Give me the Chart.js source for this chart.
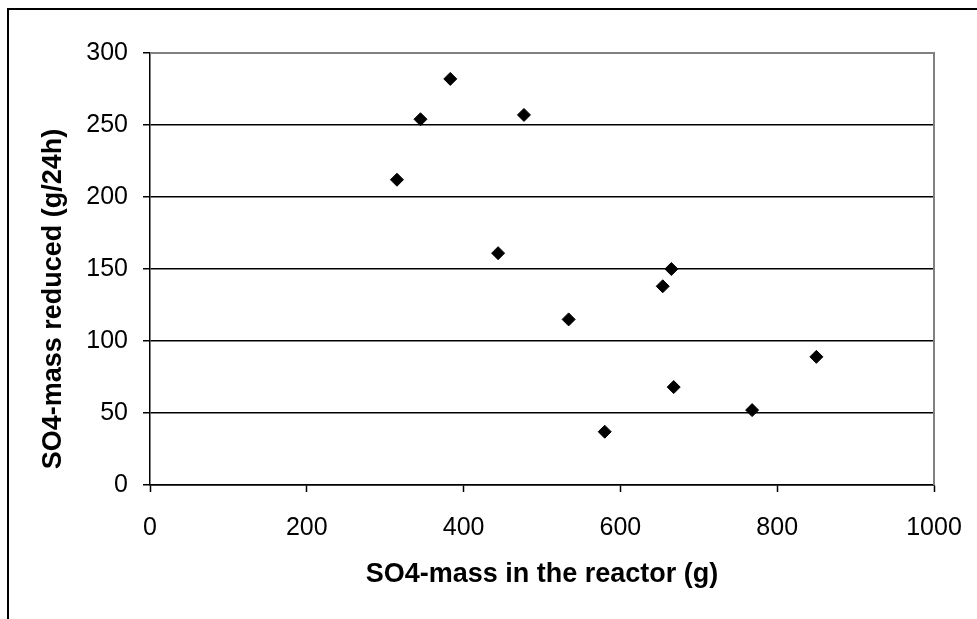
<!DOCTYPE html>
<html>
<head>
<meta charset="utf-8">
<script src="https://cdn.jsdelivr.net/npm/chart.js@4.4.1/dist/chart.umd.min.js"></script>
<style>
  html, body { margin: 0; padding: 0; background: #fff; overflow: hidden; }
  #frame { position: absolute; left: 7px; top: 8px; width: 1200px; height: 1000px; border: 2px solid #000; }
  #wrap { position: absolute; left: 0; top: 0; width: 977px; height: 619px; }
</style>
</head>
<body>
<div id="frame"></div>
<div id="wrap"><canvas id="chart"></canvas></div>
<script>
// SO4 mass in reactor (g) vs SO4 mass reduced per day (g/24h)
const massInReactor = [315, 345, 383, 477, 444, 665, 654, 534, 850, 668, 768, 580];
const massReduced   = [212, 254, 282, 257, 161, 150, 138, 115, 89, 68, 52, 37];

const xTicks = [0, 200, 400, 600, 800, 1000];
const yTicks = [0, 50, 100, 150, 200, 250, 300];

const FONT = "'Liberation Sans', Arial, sans-serif";

// gray plot-area border on top and right, like the spreadsheet original
const plotFrame = {
  id: "plotFrame",
  beforeDatasetsDraw(chart) {
    const { ctx, chartArea: a } = chart;
    ctx.save();
    ctx.strokeStyle = "#808080";
    ctx.lineWidth = 2;
    ctx.beginPath();
    ctx.moveTo(a.left, a.top);
    ctx.lineTo(a.right, a.top);
    ctx.lineTo(a.right, a.bottom);
    ctx.stroke();
    ctx.restore();
  },
};

new Chart(document.getElementById("chart").getContext("2d"), {
  type: "scatter",
  data: {
    datasets: [
      {
        label: "SO4",
        data: massInReactor.map((x, i) => ({ x, y: massReduced[i] })),
        pointStyle: "rectRot",
        pointRadius: 6.5,
        pointHoverRadius: 6.5,
        backgroundColor: "#000",
        borderColor: "#000",
        borderWidth: 1,
      },
    ],
  },
  options: {
    responsive: true,
    maintainAspectRatio: false,
    animation: false,
    layout: { padding: { left: 0, top: 53, right: 43, bottom: 0 } },
    plugins: { legend: { display: false }, tooltip: { enabled: false } },
    scales: {
      x: {
        type: "linear",
        min: 0,
        max: 1000,
        afterBuildTicks: (s) => { s.ticks = xTicks.map((v) => ({ value: v })); },
        afterFit: (s) => { s.height = 134; s.paddingLeft = 0; s.paddingRight = 0; },
        ticks: {
          color: "#000",
          font: { family: FONT, size: 25 },
          padding: 21,
          maxRotation: 0,
          callback: (v) => String(v),
        },
        grid: { drawOnChartArea: false, drawTicks: true, tickLength: 7, tickColor: "#000", tickWidth: 1.5 },
        border: { color: "#000", width: 1.5 },
        title: {
          display: true,
          text: "SO4-mass in the reactor (g)",
          color: "#000",
          font: { family: FONT, size: 27, weight: "bold", lineHeight: 1.2 },
          padding: { top: 0, bottom: 28 },
        },
      },
      y: {
        type: "linear",
        min: 0,
        max: 300,
        afterBuildTicks: (s) => { s.ticks = yTicks.map((v) => ({ value: v })); },
        afterFit: (s) => { s.width = 150; },
        ticks: { color: "#000", font: { family: FONT, size: 25 }, padding: 15, callback: (v) => String(v) },
        grid: {
          color: (c) => (c.tick && c.tick.value === 300 ? "rgba(0,0,0,0)" : "#000"),
          lineWidth: 1.5,
          drawTicks: true,
          tickLength: 7,
          tickColor: "#000",
          tickWidth: 1.5,
        },
        border: { color: "#000", width: 1.5 },
        title: {
          display: true,
          // trailing spaces nudge the title down, as in the original
          text: "SO4-mass reduced (g/24h)        ",
          color: "#000",
          font: { family: FONT, size: 27, weight: "bold", lineHeight: 1.2 },
          padding: { top: 37, bottom: 0 },
        },
      },
    },
  },
  plugins: [plotFrame],
});
</script>
</body>
</html>
